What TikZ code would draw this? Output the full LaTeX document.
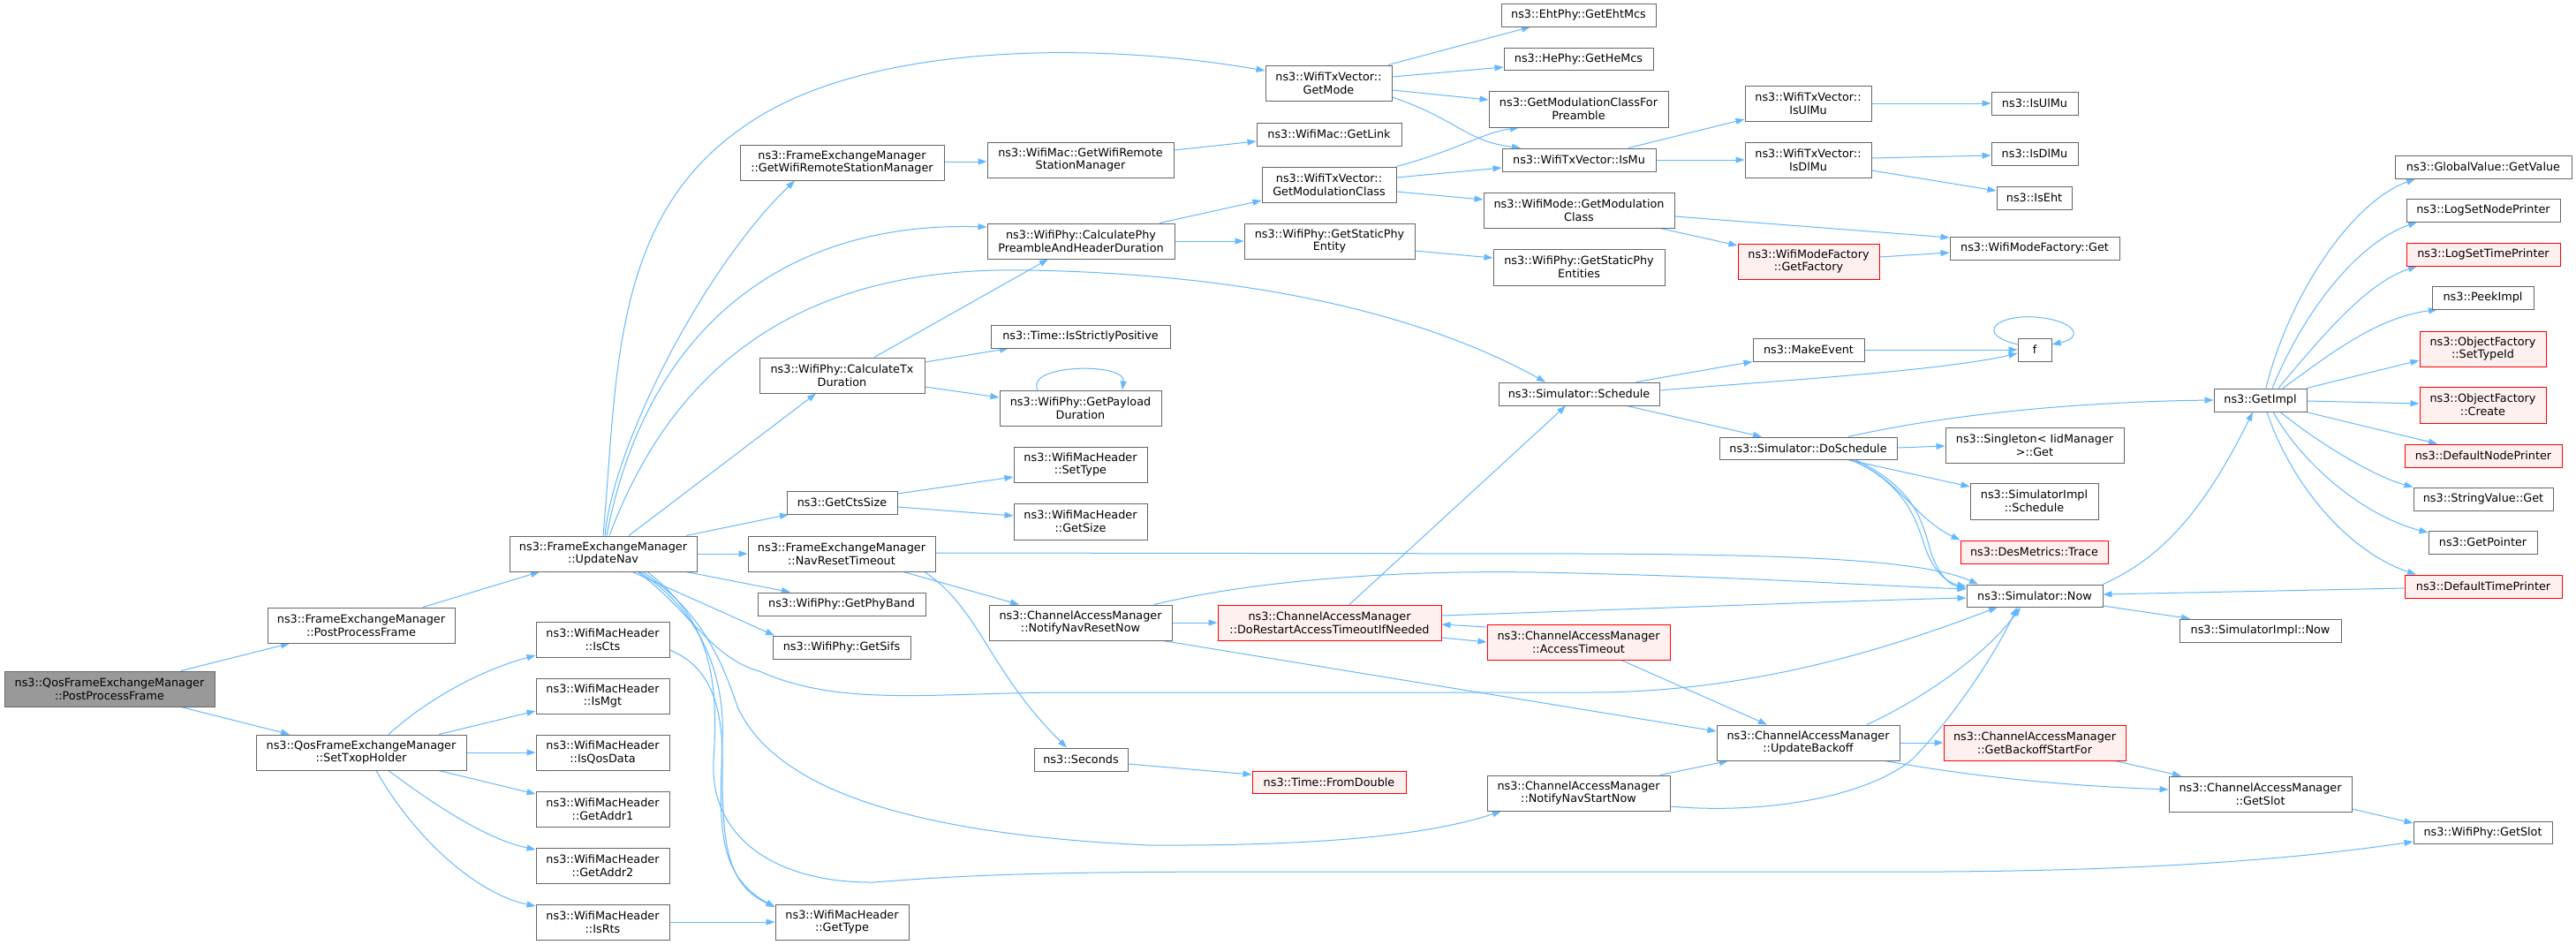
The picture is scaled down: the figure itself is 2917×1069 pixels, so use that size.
\documentclass[tikz,border=0pt]{standalone}
\usepackage{fontspec}
\setmainfont{DejaVu Sans}
\usetikzlibrary{arrows.meta}
\definecolor{edgec}{HTML}{63B8FF}
\definecolor{boxc}{HTML}{666666}
\definecolor{redfill}{HTML}{FFF0F0}
\definecolor{rootfill}{HTML}{999999}
\pgfdeclarelayer{bg}
\pgfsetlayers{bg,main}
\tikzset{
  nbox/.style={draw=boxc, line width=1pt, fill=white, inner sep=0pt, align=center, text=black,
    font=\fontsize{12.8}{14.8}\selectfont},
  redbox/.style={nbox, draw=red, fill=redfill},
  rootbox/.style={nbox, fill=rootfill},
  edg/.style={draw=edgec, line width=1pt, -{Triangle[length=10pt,width=7pt]}}
}
\newcommand{\mkn}[7][nbox]{\node[#1, minimum width={#5pt-#3pt}, minimum height={#6pt-#4pt}] (#2) at ({(#3+#5)/2},{(#4+#6)/2}) {#7};}
\begin{document}
\begin{tikzpicture}[x=1pt,y=-1pt]
\useasboundingbox (0,0) rectangle (2917,1069);
% nodes
\mkn[rootbox]{root}{5}{760}{243}{800}{ns3::QosFrameExchangeManager\\::PostProcessFrame}
\mkn{fpp}{303}{688}{515}{728}{ns3::FrameExchangeManager\\::PostProcessFrame}
\mkn{sth}{290}{832}{528}{872}{ns3::QosFrameExchangeManager\\::SetTxopHolder}
\mkn{unav}{577}{607}{789}{647}{ns3::FrameExchangeManager\\::UpdateNav}
\mkn{iscts}{607}{704}{758}{744}{ns3::WifiMacHeader\\::IsCts}
\mkn{ismgt}{607}{768}{758}{808}{ns3::WifiMacHeader\\::IsMgt}
\mkn{isqos}{607}{832}{758}{872}{ns3::WifiMacHeader\\::IsQosData}
\mkn{ga1}{607}{896}{758}{936}{ns3::WifiMacHeader\\::GetAddr1}
\mkn{ga2}{607}{960}{758}{1000}{ns3::WifiMacHeader\\::GetAddr2}
\mkn{isrts}{607}{1024}{758}{1064}{ns3::WifiMacHeader\\::IsRts}
\mkn{gtype}{878}{1024}{1029}{1064}{ns3::WifiMacHeader\\::GetType}
\mkn{gcts}{891}{556}{1016}{582}{ns3::GetCtsSize}
\mkn{navrt}{847}{607}{1059}{647}{ns3::FrameExchangeManager\\::NavResetTimeout}
\mkn{gpb}{858}{671}{1048}{697}{ns3::WifiPhy::GetPhyBand}
\mkn{gsifs}{875}{720}{1031}{746}{ns3::WifiPhy::GetSifs}
\mkn{settype}{1148}{506}{1299}{546}{ns3::WifiMacHeader\\::SetType}
\mkn{gsize}{1148}{570}{1299}{611}{ns3::WifiMacHeader\\::GetSize}
\mkn{nnrn}{1120}{685}{1327}{725}{ns3::ChannelAccessManager\\::NotifyNavResetNow}
\mkn[redbox]{dorst}{1379}{685}{1632}{725}{ns3::ChannelAccessManager\\::DoRestartAccessTimeoutIfNeeded}
\mkn{sec}{1171}{847}{1277}{873}{ns3::Seconds}
\mkn[redbox]{fdbl}{1418}{873}{1592}{898}{ns3::Time::FromDouble}
\mkn{gwrsm}{838}{164}{1069}{204}{ns3::FrameExchangeManager\\::GetWifiRemoteStationManager}
\mkn{mwrsm}{1118}{161}{1329}{201}{ns3::WifiMac::GetWifiRemote\\StationManager}
\mkn{cphy}{1118}{253}{1330}{293}{ns3::WifiPhy::CalculatePhy\\PreambleAndHeaderDuration}
\mkn{isp}{1122}{368}{1325}{394}{ns3::Time::IsStrictlyPositive}
\mkn{ctx}{860}{405}{1047}{445}{ns3::WifiPhy::CalculateTx\\Duration}
\mkn{gpd}{1132}{442}{1315}{482}{ns3::WifiPhy::GetPayload\\Duration}
\mkn{eht}{1700}{4}{1875}{30}{ns3::EhtPhy::GetEhtMcs}
\mkn{hemcs}{1703}{54}{1872}{79}{ns3::HePhy::GetHeMcs}
\mkn{gmode}{1433}{74}{1576}{114}{ns3::WifiTxVector::\\GetMode}
\mkn{gmcp}{1686}{103}{1889}{144}{ns3::GetModulationClassFor\\Preamble}
\mkn{glink}{1423}{139}{1587}{165}{ns3::WifiMac::GetLink}
\mkn{ismu}{1701}{168}{1875}{194}{ns3::WifiTxVector::IsMu}
\mkn{isulmu}{1976}{97}{2119}{137}{ns3::WifiTxVector::\\IsUlMu}
\mkn{isdlmu}{1976}{161}{2119}{201}{ns3::WifiTxVector::\\IsDlMu}
\mkn{gmc}{1429}{189}{1581}{229}{ns3::WifiTxVector::\\GetModulationClass}
\mkn{wmgmc}{1680}{218}{1896}{258}{ns3::WifiMode::GetModulation\\Class}
\mkn{gspe}{1409}{253}{1602}{293}{ns3::WifiPhy::GetStaticPhy\\Entity}
\mkn{gspes}{1691}{282}{1885}{323}{ns3::WifiPhy::GetStaticPhy\\Entities}
\mkn[redbox]{gfact}{1968}{276}{2128}{316}{ns3::WifiModeFactory\\::GetFactory}
\mkn{mkev}{1985}{383}{2111}{409}{ns3::MakeEvent}
\mkn{sched}{1697}{433}{1879}{459}{ns3::Simulator::Schedule}
\mkn{dosch}{1947}{495}{2148}{520}{ns3::Simulator::DoSchedule}
\mkn{nisulmu}{2255}{104}{2353}{130}{ns3::IsUlMu}
\mkn{nisdlmu}{2255}{161}{2353}{187}{ns3::IsDlMu}
\mkn{iseht}{2261}{211}{2346}{237}{ns3::IsEht}
\mkn{wmfget}{2208}{268}{2400}{294}{ns3::WifiModeFactory::Get}
\mkn{ff}{2285}{383}{2323}{409}{f}
\mkn{gimpl}{2507}{440}{2612}{466}{ns3::GetImpl}
\mkn{sgget}{2203}{484}{2405}{524}{ns3::Singleton< IidManager\\>::Get}
\mkn{gvget}{2712}{176}{2912}{202}{ns3::GlobalValue::GetValue}
\mkn{lsnp}{2725}{225}{2899}{251}{ns3::LogSetNodePrinter}
\mkn[redbox]{lstp}{2725}{275}{2899}{301}{ns3::LogSetTimePrinter}
\mkn{peek}{2754}{324}{2869}{350}{ns3::PeekImpl}
\mkn[redbox]{ofsti}{2740}{375}{2883}{415}{ns3::ObjectFactory\\::SetTypeId}
\mkn[redbox]{ofcr}{2740}{438}{2883}{479}{ns3::ObjectFactory\\::Create}
\mkn[redbox]{dnp}{2723}{503}{2901}{529}{ns3::DefaultNodePrinter}
\mkn{simsch}{2231}{547}{2376}{588}{ns3::SimulatorImpl\\::Schedule}
\mkn[redbox]{dmt}{2220}{612}{2387}{638}{ns3::DesMetrics::Trace}
\mkn{snow}{2227}{662}{2381}{687}{ns3::Simulator::Now}
\mkn{sinow}{2468}{701}{2651}{727}{ns3::SimulatorImpl::Now}
\mkn{svget}{2733}{552}{2891}{578}{ns3::StringValue::Get}
\mkn{gptr}{2750}{601}{2873}{627}{ns3::GetPointer}
\mkn[redbox]{dtp}{2723}{651}{2901}{677}{ns3::DefaultTimePrinter}
\mkn[redbox]{gbsf}{2201}{821}{2407}{861}{ns3::ChannelAccessManager\\::GetBackoffStartFor}
\mkn{cgslot}{2456}{879}{2663}{919}{ns3::ChannelAccessManager\\::GetSlot}
\mkn{wgslot}{2733}{930}{2890}{955}{ns3::WifiPhy::GetSlot}
\mkn[redbox]{acto}{1684}{707}{1891}{747}{ns3::ChannelAccessManager\\::AccessTimeout}
\mkn{upbk}{1944}{821}{2151}{861}{ns3::ChannelAccessManager\\::UpdateBackoff}
\mkn{nnsn}{1684}{878}{1891}{918}{ns3::ChannelAccessManager\\::NotifyNavStartNow}
% edges
\begin{pgfonlayer}{bg}
\fill[white] (0,0) rectangle (2917,1069);
\draw[edg] (root.north -| 205,0) -- (fpp.south -| 328,0);
\draw[edg] (root.south -| 205,0) -- (sth.north -| 328,0);
\draw[edg] (fpp.north -| 479,0) -- (unav.south -| 611,0);
\draw[edg] (sth.north -| 440,0) .. controls (480,795) and (540,760) .. (iscts.west |- 0,742);
\draw[edg] (sth.north -| 497,0) -- (ismgt.west |- 0,805);
\draw[edg] (sth.east) -- (isqos.west);
\draw[edg] (sth.south -| 497,0) -- (ga1.west |- 0,899);
\draw[edg] (sth.south -| 440,0) .. controls (490,910) and (550,950) .. (ga2.west |- 0,962);
\draw[edg] (sth.south -| 426,0) .. controls (470,950) and (540,1012) .. (isrts.west |- 0,1026);
\draw[edg] (iscts.east |- 0,736) .. controls (805,755) and (818,800) .. (818,860) .. controls (818,950) and (820,1000) .. (gtype.west |- 0,1027);
\draw[edg] (isrts.east) -- (gtype.west);
% UpdateNav
\draw[edg] (unav.north -| 683,0) .. controls (699,427) and (692,248) .. (840,145) .. controls (970,50) and (1230,45) .. (gmode.west |- 0,80);
\draw[edg] (unav.north -| 685,0) .. controls (695,500) and (800,300) .. (gwrsm.south -| 900,0);
\draw[edg] (unav.north -| 687,0) .. controls (730,380) and (880,250) .. (cphy.west |- 0,257);
\draw[edg] (unav.north -| 690,0) .. controls (760,420) and (900,300) .. (1165,306) .. controls (1400,310) and (1600,350) .. (sched.north -| 1750,0);
\draw[edg] (unav.north -| 712,0) -- (ctx.south -| 924,0);
\draw[edg] (unav.north -| 777,0) -- (gcts.south -| 893,0);
\draw[edg] (unav.east) -- (navrt.west);
\draw[edg] (unav.south -| 777,0) -- (gpb.north -| 895,0);
\draw[edg] (unav.south -| 716,0) -- (gsifs.north -| 877,0);
\draw[edg] (unav.south -| 722,0) .. controls (780,690) and (805,745) .. (860,760) .. controls (950,800) and (1050,785) .. (1200,784) -- (1800,784) .. controls (1990,784) and (2150,730) .. (snow.south -| 2262,0);
\draw[edg] (unav.south -| 728,0) .. controls (790,690) and (815,740) .. (835,800) .. controls (880,900) and (1050,945) .. (1300,957) .. controls (1500,958) and (1620,945) .. (nnsn.south -| 1700,0);
\draw[edg] (unav.south -| 733,0) .. controls (800,700) and (815,760) .. (808,860) .. controls (803,950) and (880,1000) .. (990,999) .. controls (1100,990) and (1200,987) .. (1430,987) -- (2200,987) .. controls (2500,985) and (2650,965) .. (wgslot.west |- 0,953);
\draw[edg] (unav.south -| 724,0) .. controls (790,690) and (822,760) .. (818,840) .. controls (815,930) and (810,990) .. (gtype.west |- 0,1027);
% others
\draw[edg] (gwrsm.east |- 0,183) -- (mwrsm.west |- 0,183);
\draw[edg] (mwrsm.east |- 0,170) -- (glink.west |- 0,160);
\draw[edg] (cphy.north -| 1313,0) -- (gmc.west |- 0,227);
\draw[edg] (cphy.east) -- (gspe.west);
\draw[edg] (ctx.north -| 990,0) -- (cphy.south -| 1187,0);
\draw[edg] (ctx.east |- 0,410) -- (isp.south -| 1142,0);
\draw[edg] (ctx.east |- 0,438) -- (gpd.west |- 0,450);
\draw[edg] (gpd.north -| 1175,0) .. controls (1160,412) and (1275,410) .. (gpd.north -| 1271,0);
\draw[edg] (gcts.east |- 0,559) -- (settype.west |- 0,540);
\draw[edg] (gcts.east |- 0,574) -- (gsize.west |- 0,584);
\draw[edg] (navrt.east |- 0,626) -- (1800,627) .. controls (2050,628) and (2180,635) .. (snow.north -| 2240,0);
\draw[edg] (navrt.south -| 1023,0) -- (nnrn.north -| 1154,0);
\draw[edg] (navrt.south -| 1047,0) .. controls (1110,690) and (1120,760) .. (sec.north -| 1208,0);
\draw[edg] (nnrn.east) -- (dorst.west);
\draw[edg] (nnrn.north -| 1307,0) .. controls (1400,662) and (1550,645) .. (1739,648) .. controls (1950,652) and (2100,662) .. (snow.west |- 0,667);
\draw[edg] (nnrn.south -| 1317,0) -- (upbk.west |- 0,828);
\draw[edg] (dorst.north -| 1528,0) -- (sched.south -| 1773,0);
\draw[edg] (dorst.east |- 0,697) .. controls (1900,688) and (2100,680) .. (snow.west |- 0,677);
\draw[edg] (dorst.east |- 0,722) -- (acto.west |- 0,727);
\draw[edg] (acto.west |- 0,710) -- (dorst.east |- 0,707);
\draw[edg] (acto.south -| 1836,0) -- (upbk.north -| 2001,0);
\draw[edg] (nnsn.north -| 1880,0) -- (upbk.south -| 1957,0);
\draw[edg] (nnsn.east |- 0,913) .. controls (1990,922) and (2110,905) .. (2165,860) .. controls (2210,815) and (2260,740) .. (snow.south -| 2284,0);
\draw[edg] (upbk.east) -- (gbsf.west);
\draw[edg] (upbk.south -| 2134,0) .. controls (2250,882) and (2350,890) .. (cgslot.west |- 0,894);
\draw[edg] (upbk.north -| 2114,0) .. controls (2180,790) and (2250,740) .. (snow.south -| 2288,0);
\draw[edg] (gbsf.south -| 2395,0) -- (cgslot.north -| 2470,0);
\draw[edg] (cgslot.east |- 0,916) -- (wgslot.west |- 0,932);
\draw[edg] (sec.east |- 0,865) -- (fdbl.west |- 0,877);
\draw[edg] (gmode.north -| 1572,0) -- (eht.south -| 1733,0);
\draw[edg] (gmode.east |- 0,87) -- (hemcs.west |- 0,76);
\draw[edg] (gmode.east |- 0,102) -- (gmcp.west |- 0,113);
\draw[edg] (gmode.east |- 0,110) .. controls (1650,135) and (1660,160) .. (ismu.north -| 1722,0);
\draw[edg] (gmc.north east) .. controls (1650,170) and (1680,150) .. (gmcp.south -| 1720,0);
\draw[edg] (gmc.east |- 0,201) -- (ismu.west |- 0,190);
\draw[edg] (gmc.east |- 0,217) -- (wmgmc.west |- 0,226);
\draw[edg] (ismu.north -| 1844,0) -- (isulmu.west |- 0,135);
\draw[edg] (ismu.east) -- (isdlmu.west |- 0,181);
\draw[edg] (isulmu.east |- 0,117) -- (nisulmu.west |- 0,117);
\draw[edg] (isdlmu.east |- 0,179) -- (nisdlmu.west |- 0,176);
\draw[edg] (isdlmu.east |- 0,193) -- (iseht.west |- 0,216);
\draw[edg] (wmgmc.east |- 0,245) -- (wmfget.west |- 0,269);
\draw[edg] (wmgmc.south -| 1880,0) -- (gfact.west |- 0,278);
\draw[edg] (gfact.east |- 0,291) -- (wmfget.west |- 0,286);
\draw[edg] (gspe.east |- 0,284) -- (gspes.west |- 0,292);
\draw[edg] (sched.north -| 1853,0) -- (mkev.south west);
\draw[edg] (sched.east |- 0,442) .. controls (2000,432) and (2200,420) .. (ff.west |- 0,400);
\draw[edg] (mkev.east) -- (ff.west);
\draw[edg] (ff.west |- 0,390) .. controls (2235,378) and (2262,356) .. (2304,359) .. controls (2348,362) and (2362,382) .. (ff.east |- 0,390);
\draw[edg] (sched.south -| 1842,0) -- (dosch.north -| 1995,0);
\draw[edg] (dosch.north -| 2093,0) .. controls (2200,470) and (2350,455) .. (gimpl.west |- 0,453);
\draw[edg] (dosch.east |- 0,507) -- (sgget.west |- 0,505);
\draw[edg] (dosch.south -| 2092,0) -- (simsch.west |- 0,551);
\draw[edg] (dosch.south -| 2094,0) .. controls (2150,540) and (2165,585) .. (dmt.north west);
\draw[edg] (dosch.south -| 2097,0) .. controls (2160,550) and (2170,590) .. (2180,620) .. controls (2190,648) and (2205,660) .. (snow.west |- 0,664);
\draw[edg] (dosch.south -| 2101,0) .. controls (2166,552) and (2176,586) .. (2186,624) .. controls (2196,654) and (2210,663) .. (snow.west |- 0,666);
% GetImpl fan
\draw[edg] (gimpl.north -| 2566,0) .. controls (2590,340) and (2660,230) .. (gvget.south -| 2735,0);
\draw[edg] (gimpl.north -| 2573,0) .. controls (2610,350) and (2670,275) .. (lsnp.south -| 2737,0);
\draw[edg] (gimpl.north -| 2580,0) .. controls (2630,380) and (2680,320) .. (lstp.south -| 2737,0);
\draw[edg] (gimpl.north -| 2585,0) .. controls (2640,400) and (2690,360) .. (peek.south -| 2760,0);
\draw[edg] (gimpl.north -| 2612,0) -- (ofsti.west |- 0,408);
\draw[edg] (gimpl.east |- 0,454) -- (ofcr.west |- 0,457);
\draw[edg] (gimpl.south -| 2611,0) -- (dnp.north -| 2760,0);
\draw[edg] (gimpl.south -| 2582,0) .. controls (2630,505) and (2690,540) .. (svget.north west);
\draw[edg] (gimpl.south -| 2574,0) .. controls (2610,530) and (2680,585) .. (gptr.west |- 0,603);
\draw[edg] (gimpl.south -| 2567,0) .. controls (2595,550) and (2660,625) .. (dtp.north -| 2736,0);
\draw[edg] (dtp.west |- 0,666) -- (snow.east |- 0,673);
\draw[edg] (snow.north east) .. controls (2440,635) and (2490,590) .. (gimpl.south -| 2551,0);
\draw[edg] (snow.east |- 0,686) -- (sinow.north -| 2480,0);
\end{pgfonlayer}
\end{tikzpicture}
\end{document}
